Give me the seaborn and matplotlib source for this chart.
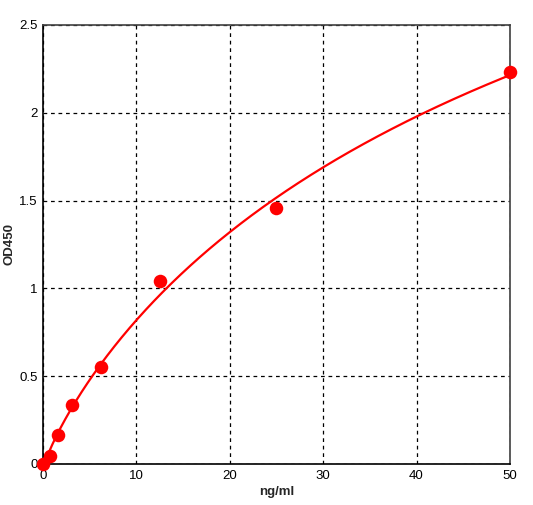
import numpy as np
import pandas as pd
import matplotlib
matplotlib.use("Agg")
import matplotlib.pyplot as plt
import seaborn as sns

# Standard curve readings
conc = [0, 0.78, 1.56, 3.125, 6.25, 12.5, 25, 50]
od450 = [0.0, 0.045, 0.165, 0.335, 0.55, 1.04, 1.455, 2.23]
x_ticks = [0, 10, 20, 30, 40, 50]
y_ticks = [0, 0.5, 1, 1.5, 2, 2.5]

df = pd.DataFrame({"ng/ml": conc, "OD450": od450})

sns.set_style("white")
plt.rcParams["font.family"] = ["Liberation Sans", "DejaVu Sans"]


# 4-parameter logistic fit: a, d solved linearly for each (b, c) on a grid
def fit_4pl(x, y):
    x = np.asarray(x, float)
    y = np.asarray(y, float)
    best = None
    for b in np.linspace(0.5, 2.5, 201):
        for c in np.linspace(5, 300, 300):
            g = 1.0 / (1.0 + (x / c) ** b)
            A = np.column_stack([g, 1 - g])
            coef, *_ = np.linalg.lstsq(A, y, rcond=None)
            err = np.sum((A @ coef - y) ** 2)
            if best is None or err < best[0]:
                best = (err, coef[0], b, c, coef[1])
    _, a, b, c, d = best
    return lambda t: d + (a - d) / (1 + (t / c) ** b)


curve = fit_4pl(conc, od450)
xs = np.linspace(0, 50, 400)
fit_df = pd.DataFrame({"ng/ml": xs, "OD450": curve(xs)})

fig = plt.figure(figsize=(5.33, 5.05), dpi=100)
ax = fig.add_axes([0.0807, 0.0812, 0.876, 0.8693])

sns.lineplot(data=fit_df, x="ng/ml", y="OD450", ax=ax, color="#ff0000",
             linewidth=1.6, zorder=3)
sns.scatterplot(data=df, x="ng/ml", y="OD450", ax=ax, color="#ff0000",
                s=95, edgecolor="#ff0000", linewidth=0, zorder=4, clip_on=False)

ax.set_xlim(0, 50)
ax.set_ylim(0, 2.5)
ax.set_xticks(x_ticks)
ax.set_yticks(y_ticks)
ax.set_xticklabels([f"{v:g}" for v in x_ticks])
ax.set_yticklabels([f"{v:g}" for v in y_ticks])
ax.tick_params(length=0, labelsize=9.5, pad=4, colors="black")

ax.grid(True, color="black", linestyle=(0, (3, 3)), linewidth=0.9)
ax.set_axisbelow(True)
for side in ["left", "bottom", "top", "right"]:
    ax.spines[side].set_visible(True)
    ax.spines[side].set_color("#404040")
    ax.spines[side].set_linewidth(1.2)
ax.spines["left"].set_color("black")
ax.spines["bottom"].set_color("black")

ax.set_xlabel("ng/ml", fontsize=9.5, fontweight="bold")
ax.set_ylabel("OD450", fontsize=9.5, fontweight="bold")
ax.xaxis.set_label_coords(0.5, -0.064)
ax.yaxis.set_label_coords(-0.071, 0.5)
ax.xaxis.label.set_va("center")
ax.yaxis.label.set_va("center")

fig.savefig("out.png", dpi=100)
